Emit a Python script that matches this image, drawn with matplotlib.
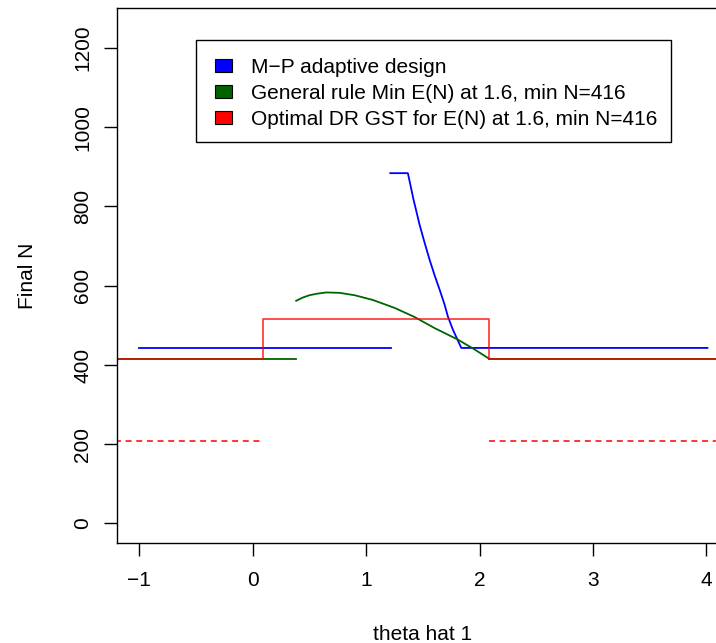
import matplotlib
matplotlib.use("Agg")
import matplotlib.pyplot as plt
from matplotlib.patches import Rectangle

# ---------------- data ----------------
x_ticks = [-1, 0, 1, 2, 3, 4]
y_ticks = [0, 200, 400, 600, 800, 1000, 1200]

# M-P adaptive design (blue)
blue_left_x = [-1.0, 1.22]
blue_left_y = [442, 442]
blue_right_x = [1.213, 1.368, 1.418, 1.471, 1.515, 1.559, 1.604, 1.648, 1.692,
                1.721, 1.765, 1.839, 4.01]
blue_right_y = [884, 884, 817, 754, 709, 666, 626, 590, 552, 522, 489, 443, 443]

# General rule (dark green)
green_flat_left_x = [-1.5, 0.383]
green_flat_left_y = [416, 416]
green_curve_x = [0.383, 0.44, 0.500, 0.57, 0.648, 0.765, 0.898, 1.059, 1.251, 1.427,
                 1.604, 1.809, 1.957, 2.083]
green_curve_y = [562, 570, 576, 580, 583, 582, 576, 564, 544, 521, 493, 464, 439, 416]
green_flat_right_x = [2.083, 4.5]
green_flat_right_y = [416, 416]

# Optimal DR GST (red) – step function
red_step_x = [-1.5, 0.088, 2.083, 4.5]
red_step_y = [416, 517, 416, 416]
# red dashed (interim N)
red_dash_left_x = [-1.5, 0.08]
red_dash_right_x = [2.083, 4.5]
red_dash_y = [208, 208]

legend_labels = ["M\u2212P adaptive design",
                 "General rule Min E(N) at 1.6, min N=416",
                 "Optimal DR GST for E(N) at 1.6, min N=416"]
legend_colors = ["#0000FF", "#006400", "#FF0000"]

# ---------------- figure ----------------
W, H = 716, 643
fig = plt.figure(figsize=(W / 100, H / 100), dpi=100)
plt.rcParams['font.family'] = ['Liberation Sans', 'DejaVu Sans']
FS = 15

ax_l, ax_r, ax_t, ax_b = 116.7, 729.0, 8.3, 543.3
ax = fig.add_axes([ax_l / W, 1 - ax_b / H, (ax_r - ax_l) / W, (ax_b - ax_t) / H])
ax.set_xlim(-1.2, 4.2)
ax.set_ylim(-50, 1300)

lw = 1.3
blue = "#0000FF"
green = "#006400"
red = "#FF0000"

ax.plot(blue_left_x, blue_left_y, color=blue, lw=lw)
ax.plot(blue_right_x, blue_right_y, color=blue, lw=lw)
ax.plot(green_flat_left_x, green_flat_left_y, color=green, lw=lw)
ax.plot(green_curve_x, green_curve_y, color=green, lw=lw)
ax.plot(green_flat_right_x, green_flat_right_y, color=green, lw=lw)
ax.plot(red_step_x, red_step_y, color=red, lw=lw, drawstyle='steps-post', alpha=0.75)
ax.plot(red_dash_left_x, red_dash_y, color=red, lw=lw, dashes=(3.3, 2.6), alpha=0.85)
ax.plot(red_dash_right_x, red_dash_y, color=red, lw=lw, dashes=(3.3, 2.6), alpha=0.85)

# axes styling
for s in ax.spines.values():
    s.set_linewidth(1.0)
ax.set_xticks(x_ticks)
ax.set_xticklabels([str(v).replace('-', '\u2212') for v in x_ticks], fontsize=FS)
ax.set_yticks(y_ticks)
ax.set_yticklabels([str(v) for v in y_ticks], fontsize=FS, rotation=90, va='center')
ax.tick_params(axis='x', length=9.6, width=1.0, pad=10.5)
ax.tick_params(axis='y', length=9.6, width=1.0, pad=8.0)

ax.set_xlabel("theta hat 1", fontsize=FS)
ax.set_ylabel("Final N", fontsize=FS)
ax.xaxis.set_label_coords(0.5, (ax_b - 634) / (ax_b - ax_t))
ax.xaxis.label.set_va('center')
ax.yaxis.set_label_coords((27.5 - ax_l) / (ax_r - ax_l), 0.5)
ax.yaxis.label.set_va('center')

# ---------------- legend (drawn manually, R style) ----------------
def fx(px):
    return px / W

def fy(py):
    return 1 - py / H

lg_l, lg_t, lg_r, lg_b = 196, 40, 671, 141.7
fig.patches.append(Rectangle((fx(lg_l), fy(lg_b)), fx(lg_r) - fx(lg_l), fy(lg_t) - fy(lg_b),
                             transform=fig.transFigure, facecolor='white',
                             edgecolor='black', lw=1.0, zorder=5))
row_c = [65.5, 91.7, 117.7]
for lab, col, yc in zip(legend_labels, legend_colors, row_c):
    fig.patches.append(Rectangle((fx(215), fy(yc + 6.3)), fx(231.7) - fx(215), 12.6 / H,
                                 transform=fig.transFigure, facecolor=col,
                                 edgecolor='black', lw=0.8, zorder=6))
    fig.text(fx(251), fy(yc), lab, fontsize=FS, ha='left', va='center_baseline',
             zorder=7)

fig.savefig("out.png", dpi=100)
